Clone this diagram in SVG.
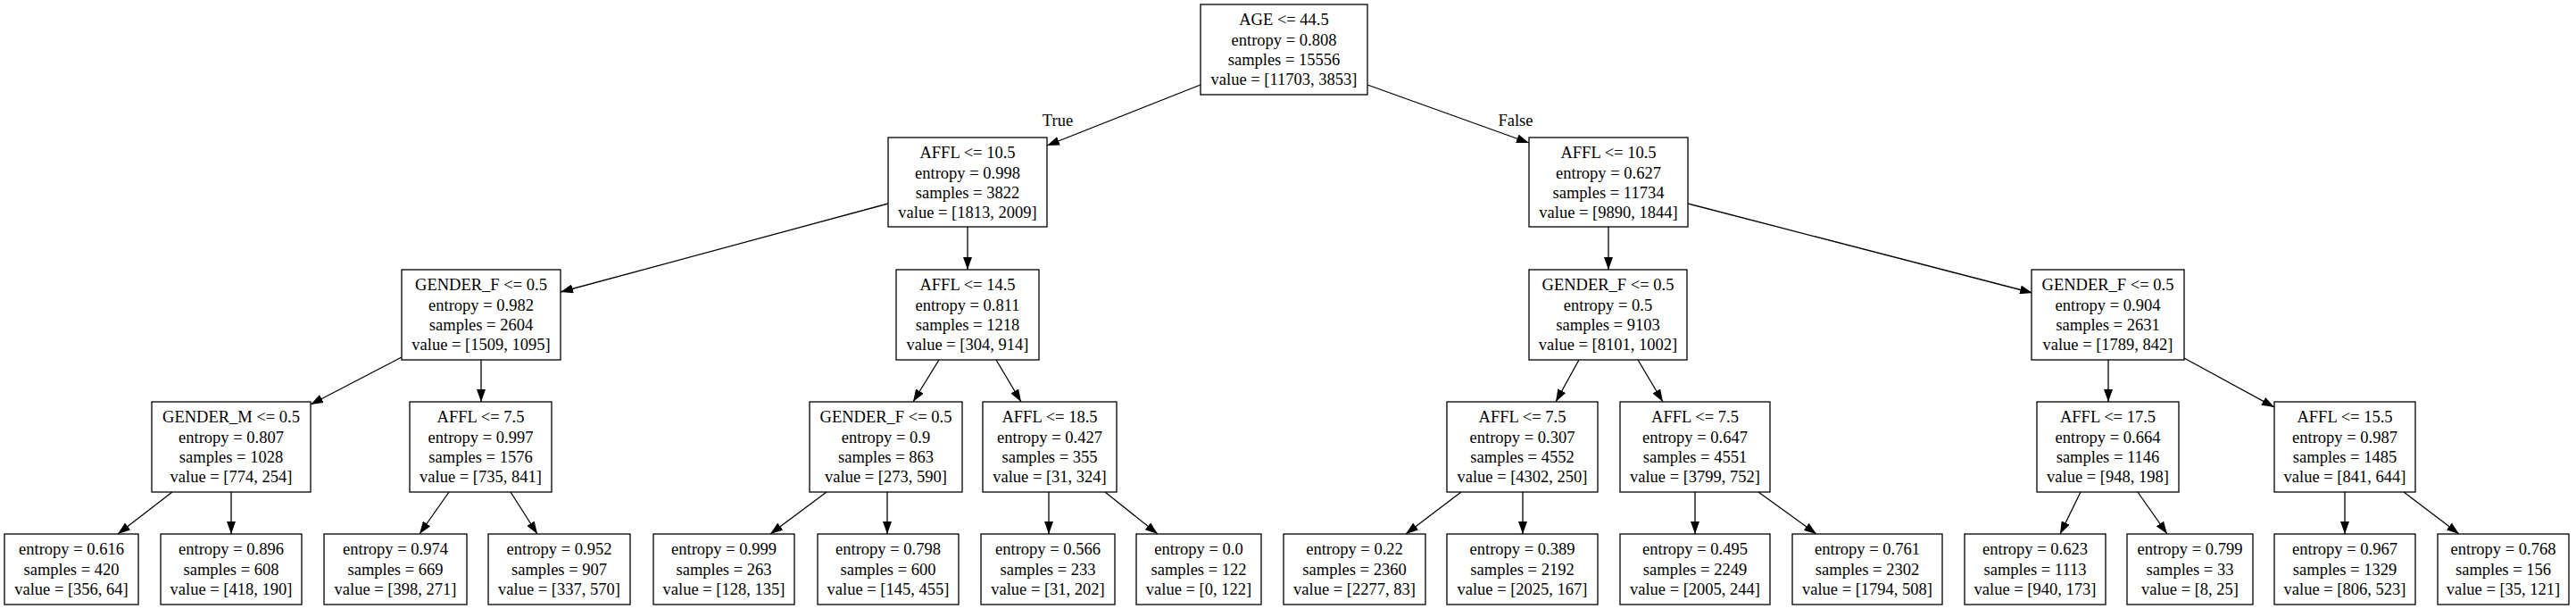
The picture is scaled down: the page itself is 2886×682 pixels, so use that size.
<svg xmlns="http://www.w3.org/2000/svg" width="2886" height="682" viewBox="0 0 2886 682">
<style>
rect.n{fill:#fff;stroke:#000;stroke-width:1.3}
text{font-family:"Liberation Serif","Times New Roman",serif;font-size:18.5px;fill:#000;text-anchor:middle}
#edges line{stroke:#000;stroke-width:1.3;marker-end:url(#ah)}
</style>
<defs>
<marker id="ah" markerUnits="userSpaceOnUse" markerWidth="14" markerHeight="10" viewBox="0 0 14 10" refX="14" refY="5" orient="auto">
<path d="M0,0 L14,5 L0,10 z" fill="#000"/>
</marker>
</defs>
<rect width="2886" height="682" fill="#fff"/>
<g id="edges">
<line x1="1345" y1="95" x2="1173" y2="163"/>
<line x1="1532" y1="95" x2="1713" y2="160"/>
<line x1="995" y1="228" x2="628" y2="327"/>
<line x1="1084" y1="254" x2="1084" y2="302"/>
<line x1="1802" y1="254" x2="1802" y2="302"/>
<line x1="1891" y1="228" x2="2277" y2="328"/>
<line x1="450" y1="400" x2="348" y2="453"/>
<line x1="539" y1="403" x2="539" y2="450"/>
<line x1="1052" y1="403" x2="1023" y2="450"/>
<line x1="1116" y1="403" x2="1144" y2="450"/>
<line x1="1769" y1="403" x2="1743" y2="450"/>
<line x1="1835" y1="403" x2="1863" y2="450"/>
<line x1="2362" y1="403" x2="2362" y2="450"/>
<line x1="2447" y1="401" x2="2548" y2="456"/>
<line x1="193" y1="551" x2="132" y2="598"/>
<line x1="259" y1="551" x2="259" y2="598"/>
<line x1="503" y1="551" x2="470" y2="598"/>
<line x1="572" y1="551" x2="602" y2="598"/>
<line x1="926" y1="551" x2="863" y2="598"/>
<line x1="994" y1="551" x2="994" y2="598"/>
<line x1="1175" y1="551" x2="1175" y2="598"/>
<line x1="1238" y1="551" x2="1297" y2="598"/>
<line x1="1637" y1="551" x2="1575" y2="598"/>
<line x1="1706" y1="551" x2="1706" y2="598"/>
<line x1="1899" y1="551" x2="1899" y2="598"/>
<line x1="1970" y1="551" x2="2035" y2="598"/>
<line x1="2331" y1="551" x2="2308" y2="598"/>
<line x1="2395" y1="551" x2="2428" y2="598"/>
<line x1="2627" y1="551" x2="2627" y2="598"/>
<line x1="2693" y1="551" x2="2755" y2="598"/>
<text x="1185" y="141">True</text>
<text x="1698" y="141">False</text>
</g>
<g id="n0"><rect class="n" x="1345" y="5" width="187" height="101"/><text x="1438.5" y="28">AGE &lt;= 44.5</text><text x="1438.5" y="50.5">entropy = 0.808</text><text x="1438.5" y="73">samples = 15556</text><text x="1438.5" y="95">value = [11703, 3853]</text></g>
<g id="n1"><rect class="n" x="995" y="154" width="178" height="100"/><text x="1084" y="177">AFFL &lt;= 10.5</text><text x="1084" y="199.5">entropy = 0.998</text><text x="1084" y="222">samples = 3822</text><text x="1084" y="244">value = [1813, 2009]</text></g>
<g id="n2"><rect class="n" x="1713" y="154" width="178" height="100"/><text x="1802" y="177">AFFL &lt;= 10.5</text><text x="1802" y="199.5">entropy = 0.627</text><text x="1802" y="222">samples = 11734</text><text x="1802" y="244">value = [9890, 1844]</text></g>
<g id="n3"><rect class="n" x="450" y="302" width="178" height="101"/><text x="539" y="325">GENDER_F &lt;= 0.5</text><text x="539" y="347.5">entropy = 0.982</text><text x="539" y="370">samples = 2604</text><text x="539" y="392">value = [1509, 1095]</text></g>
<g id="n4"><rect class="n" x="1004" y="302" width="160" height="101"/><text x="1084" y="325">AFFL &lt;= 14.5</text><text x="1084" y="347.5">entropy = 0.811</text><text x="1084" y="370">samples = 1218</text><text x="1084" y="392">value = [304, 914]</text></g>
<g id="n5"><rect class="n" x="1713" y="302" width="177" height="101"/><text x="1801.5" y="325">GENDER_F &lt;= 0.5</text><text x="1801.5" y="347.5">entropy = 0.5</text><text x="1801.5" y="370">samples = 9103</text><text x="1801.5" y="392">value = [8101, 1002]</text></g>
<g id="n6"><rect class="n" x="2276" y="302" width="171" height="101"/><text x="2361.5" y="325">GENDER_F &lt;= 0.5</text><text x="2361.5" y="347.5">entropy = 0.904</text><text x="2361.5" y="370">samples = 2631</text><text x="2361.5" y="392">value = [1789, 842]</text></g>
<g id="n7"><rect class="n" x="170" y="450" width="178" height="101"/><text x="259" y="473">GENDER_M &lt;= 0.5</text><text x="259" y="495.5">entropy = 0.807</text><text x="259" y="518">samples = 1028</text><text x="259" y="540">value = [774, 254]</text></g>
<g id="n8"><rect class="n" x="459" y="450" width="159" height="101"/><text x="538.5" y="473">AFFL &lt;= 7.5</text><text x="538.5" y="495.5">entropy = 0.997</text><text x="538.5" y="518">samples = 1576</text><text x="538.5" y="540">value = [735, 841]</text></g>
<g id="n9"><rect class="n" x="907" y="450" width="171" height="101"/><text x="992.5" y="473">GENDER_F &lt;= 0.5</text><text x="992.5" y="495.5">entropy = 0.9</text><text x="992.5" y="518">samples = 863</text><text x="992.5" y="540">value = [273, 590]</text></g>
<g id="n10"><rect class="n" x="1101" y="450" width="150" height="101"/><text x="1176" y="473">AFFL &lt;= 18.5</text><text x="1176" y="495.5">entropy = 0.427</text><text x="1176" y="518">samples = 355</text><text x="1176" y="540">value = [31, 324]</text></g>
<g id="n11"><rect class="n" x="1621" y="450" width="169" height="101"/><text x="1705.5" y="473">AFFL &lt;= 7.5</text><text x="1705.5" y="495.5">entropy = 0.307</text><text x="1705.5" y="518">samples = 4552</text><text x="1705.5" y="540">value = [4302, 250]</text></g>
<g id="n12"><rect class="n" x="1815" y="450" width="168" height="101"/><text x="1899" y="473">AFFL &lt;= 7.5</text><text x="1899" y="495.5">entropy = 0.647</text><text x="1899" y="518">samples = 4551</text><text x="1899" y="540">value = [3799, 752]</text></g>
<g id="n13"><rect class="n" x="2282" y="450" width="159" height="101"/><text x="2361.5" y="473">AFFL &lt;= 17.5</text><text x="2361.5" y="495.5">entropy = 0.664</text><text x="2361.5" y="518">samples = 1146</text><text x="2361.5" y="540">value = [948, 198]</text></g>
<g id="n14"><rect class="n" x="2548" y="450" width="158" height="101"/><text x="2627" y="473">AFFL &lt;= 15.5</text><text x="2627" y="495.5">entropy = 0.987</text><text x="2627" y="518">samples = 1485</text><text x="2627" y="540">value = [841, 644]</text></g>
<g id="l1"><rect class="n" x="5" y="598" width="150" height="79"/><text x="80" y="621">entropy = 0.616</text><text x="80" y="643.5">samples = 420</text><text x="80" y="666">value = [356, 64]</text></g>
<g id="l2"><rect class="n" x="180" y="598" width="158" height="79"/><text x="259" y="621">entropy = 0.896</text><text x="259" y="643.5">samples = 608</text><text x="259" y="666">value = [418, 190]</text></g>
<g id="l3"><rect class="n" x="363" y="598" width="160" height="79"/><text x="443" y="621">entropy = 0.974</text><text x="443" y="643.5">samples = 669</text><text x="443" y="666">value = [398, 271]</text></g>
<g id="l4"><rect class="n" x="547" y="598" width="159" height="79"/><text x="626.5" y="621">entropy = 0.952</text><text x="626.5" y="643.5">samples = 907</text><text x="626.5" y="666">value = [337, 570]</text></g>
<g id="l5"><rect class="n" x="732" y="598" width="158" height="79"/><text x="811" y="621">entropy = 0.999</text><text x="811" y="643.5">samples = 263</text><text x="811" y="666">value = [128, 135]</text></g>
<g id="l6"><rect class="n" x="916" y="598" width="158" height="79"/><text x="995" y="621">entropy = 0.798</text><text x="995" y="643.5">samples = 600</text><text x="995" y="666">value = [145, 455]</text></g>
<g id="l7"><rect class="n" x="1099" y="598" width="150" height="79"/><text x="1174" y="621">entropy = 0.566</text><text x="1174" y="643.5">samples = 233</text><text x="1174" y="666">value = [31, 202]</text></g>
<g id="l8"><rect class="n" x="1273" y="598" width="140" height="79"/><text x="1343" y="621">entropy = 0.0</text><text x="1343" y="643.5">samples = 122</text><text x="1343" y="666">value = [0, 122]</text></g>
<g id="l9"><rect class="n" x="1438" y="598" width="159" height="79"/><text x="1517.5" y="621">entropy = 0.22</text><text x="1517.5" y="643.5">samples = 2360</text><text x="1517.5" y="666">value = [2277, 83]</text></g>
<g id="l10"><rect class="n" x="1621" y="598" width="169" height="79"/><text x="1705.5" y="621">entropy = 0.389</text><text x="1705.5" y="643.5">samples = 2192</text><text x="1705.5" y="666">value = [2025, 167]</text></g>
<g id="l11"><rect class="n" x="1815" y="598" width="168" height="79"/><text x="1899" y="621">entropy = 0.495</text><text x="1899" y="643.5">samples = 2249</text><text x="1899" y="666">value = [2005, 244]</text></g>
<g id="l12"><rect class="n" x="2008" y="598" width="168" height="79"/><text x="2092" y="621">entropy = 0.761</text><text x="2092" y="643.5">samples = 2302</text><text x="2092" y="666">value = [1794, 508]</text></g>
<g id="l13"><rect class="n" x="2201" y="598" width="158" height="79"/><text x="2280" y="621">entropy = 0.623</text><text x="2280" y="643.5">samples = 1113</text><text x="2280" y="666">value = [940, 173]</text></g>
<g id="l14"><rect class="n" x="2383" y="598" width="141" height="79"/><text x="2453.5" y="621">entropy = 0.799</text><text x="2453.5" y="643.5">samples = 33</text><text x="2453.5" y="666">value = [8, 25]</text></g>
<g id="l15"><rect class="n" x="2548" y="598" width="158" height="79"/><text x="2627" y="621">entropy = 0.967</text><text x="2627" y="643.5">samples = 1329</text><text x="2627" y="666">value = [806, 523]</text></g>
<g id="l16"><rect class="n" x="2731" y="598" width="147" height="79"/><text x="2804.5" y="621">entropy = 0.768</text><text x="2804.5" y="643.5">samples = 156</text><text x="2804.5" y="666">value = [35, 121]</text></g>
</svg>
